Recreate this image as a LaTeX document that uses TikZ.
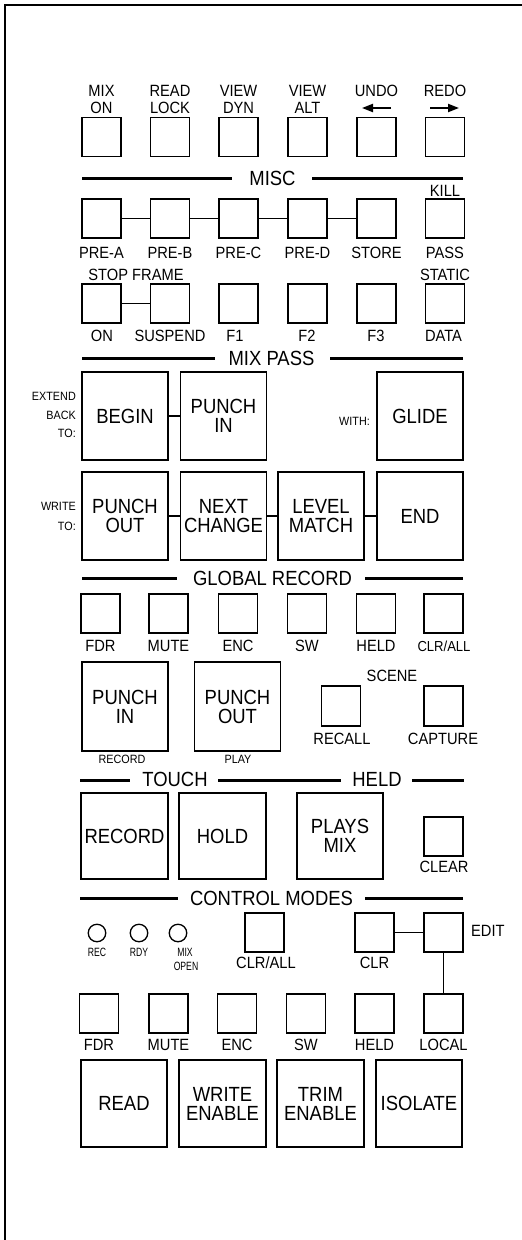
\documentclass[tikz,border=0pt]{standalone}
\usepackage{fontspec}
\setmainfont{Liberation Sans}[FakeStretch=0.9]
\newfontfamily\narrowf{Liberation Sans}[FakeStretch=0.72]
\usetikzlibrary{arrows.meta,calc}
\tikzset{
 sbtn/.style={draw, line width=1.4pt, minimum width=39pt, minimum height=39pt, inner sep=0pt},
 bbtn/.style={draw, line width=1.4pt, minimum width=86pt, minimum height=88pt, inner sep=0pt, align=center, font=\fontsize{20.5}{19}\selectfont},
 lbl/.style={inner sep=0pt, anchor=base, font=\fontsize{16.3}{16}\selectfont},
 slbl/.style={inner sep=0pt, anchor=base, font=\fontsize{12}{12}\selectfont},
 tlbl/.style={inner sep=0pt, anchor=base, font=\narrowf\fontsize{12}{12}\selectfont},
 hdr/.style={inner sep=0pt, anchor=base, font=\fontsize{20.5}{20}\selectfont},
 divider/.style={line width=3pt},
 link/.style={line width=1.5pt},
 lamp/.style={circle, draw, line width=1.3pt, minimum size=17.5pt, inner sep=0pt},
 tiparrow/.style={line width=2pt, -{Triangle[length=11pt,width=8pt]}},
}
\begin{document}
\begin{tikzpicture}[x=1pt,y=-1pt]
\useasboundingbox (0,0) rectangle (522,1240);
% panel border
\coordinate (bl) at (4.5,1240);
\coordinate (tl) at (4.5,5);
\coordinate (tr) at (522,5);
\draw[line width=2pt] (bl) -- (tl) -- (tr);

% ---------- top row ----------
\node[sbtn] (mixon) at (101.5,137) {};
\node[sbtn] (readlock) at (170,137) {};
\node[sbtn] (viewdyn) at (238.5,137) {};
\node[sbtn] (viewalt) at (307.5,137) {};
\node[sbtn] (undo) at (376.5,137) {};
\node[sbtn] (redo) at (445,137) {};
\node[lbl] (lmix1) at (101.5,96) {MIX};
\node[lbl] (lmix2) at (101.5,113) {ON};
\node[lbl] (lrl1) at (170,96) {READ};
\node[lbl] (lrl2) at (170,113) {LOCK};
\node[lbl] (lvd1) at (238.5,96) {VIEW};
\node[lbl] (lvd2) at (238.5,113) {DYN};
\node[lbl] (lva1) at (307.5,96) {VIEW};
\node[lbl] (lva2) at (307.5,113) {ALT};
\node[lbl] (lundo) at (376.5,96) {UNDO};
\node[lbl] (lredo) at (445,96) {REDO};
\coordinate (ua) at (391,108);
\coordinate (ub) at (362,108);
\coordinate (ra) at (430,108);
\coordinate (rb) at (459,108);
\draw[tiparrow] (ua) -- (ub);
\draw[tiparrow] (ra) -- (rb);

% ---------- MISC ----------
\node[hdr] (hmisc) at (272.5,185) {MISC};
\draw[divider] (82,178.5) -- (232,178.5);
\draw[divider] (312,178.5) -- (463,178.5);
\node[lbl] (lkill) at (445,196.5) {KILL};

\node[sbtn] (prea) at (101.5,218.5) {};
\node[sbtn] (preb) at (170,218.5) {};
\node[sbtn] (prec) at (238.5,218.5) {};
\node[sbtn] (pred) at (307.5,218.5) {};
\node[sbtn] (store) at (376.5,218.5) {};
\node[sbtn] (pass) at (445,218.5) {};
\draw[link] (prea) -- (preb);
\draw[link] (preb) -- (prec);
\draw[link] (prec) -- (pred);
\draw[link] (pred) -- (store);
\node[lbl] (lprea) at (101.5,258) {PRE-A};
\node[lbl] (lpreb) at (170,258) {PRE-B};
\node[lbl] (lprec) at (238.5,258) {PRE-C};
\node[lbl] (lpred) at (307.5,258) {PRE-D};
\node[lbl] (lstore) at (376.5,258) {STORE};
\node[lbl] (lpass) at (445,258) {PASS};

\node[lbl] (lstop) at (136,280) {STOP FRAME};
\node[lbl] (lstatic) at (445,280) {STATIC};
\node[sbtn] (on) at (101.5,303.5) {};
\node[sbtn] (susp) at (170,303.5) {};
\node[sbtn] (fone) at (238.5,303.5) {};
\node[sbtn] (ftwo) at (307.5,303.5) {};
\node[sbtn] (fthree) at (376.5,303.5) {};
\node[sbtn] (data) at (445,303.5) {};
\draw[link] (on) -- (susp);
\node[lbl] (lon) at (102,341.5) {ON};
\node[lbl] (lsusp) at (170,341.5) {SUSPEND};
\node[lbl] (lfone) at (235,341.5) {F1};
\node[lbl] (lftwo) at (307,341.5) {F2};
\node[lbl] (lfthree) at (376,341.5) {F3};
\node[lbl] (ldata) at (443.5,341.5) {DATA};

% ---------- MIX PASS ----------
\node[hdr] (hmix) at (271.5,365) {MIX PASS};
\draw[divider] (82,358.5) -- (215,358.5);
\draw[divider] (330,358.5) -- (463,358.5);

\node[bbtn] (begin) at (125,416) {BEGIN};
\node[bbtn] (pin) at (223.5,416) {PUNCH\\IN};
\node[bbtn] (glide) at (420,416) {GLIDE};
\draw[link] (begin) -- (pin);
\node[slbl, anchor=base east] (lext) at (76,400) {EXTEND};
\node[slbl, anchor=base east] (lback) at (76,419.3) {BACK};
\node[slbl, anchor=base east] (lto) at (76,437.3) {TO:};
\node[slbl, anchor=base east] (lwith) at (370,425) {WITH:};

\node[bbtn] (pout) at (125,516) {PUNCH\\OUT};
\node[bbtn] (nextch) at (223.5,516) {NEXT\\CHANGE};
\node[bbtn] (lvl) at (321,516) {LEVEL\\MATCH};
\node[bbtn] (endb) at (420,516) {END};
\draw[link] (pout) -- (nextch);
\draw[link] (nextch) -- (lvl);
\draw[link] (lvl) -- (endb);
\node[slbl, anchor=base east] (lwrite) at (76,510.7) {WRITE};
\node[slbl, anchor=base east] (lto2) at (76,530) {TO:};

% ---------- GLOBAL RECORD ----------
\node[hdr] (hglob) at (272.5,585) {GLOBAL RECORD};
\draw[divider] (82,578.5) -- (177,578.5);
\draw[divider] (365,578.5) -- (463,578.5);
\node[sbtn] (gfdr) at (100.5,613.5) {};
\node[sbtn] (gmute) at (168.5,613.5) {};
\node[sbtn] (genc) at (238,613.5) {};
\node[sbtn] (gsw) at (307,613.5) {};
\node[sbtn] (gheld) at (376,613.5) {};
\node[sbtn] (gclr) at (443.5,613.5) {};
\node[lbl] (lgfdr) at (100.5,651.5) {FDR};
\node[lbl] (lgmute) at (168.5,651.5) {MUTE};
\node[lbl] (lgenc) at (238,651.5) {ENC};
\node[lbl] (lgsw) at (307,651.5) {SW};
\node[lbl] (lgheld) at (376,651.5) {HELD};
\node[lbl, font=\fontsize{14.5}{14.5}\selectfont] (lgclr) at (444,651.5) {CLR/ALL};

\node[bbtn, minimum height=89pt] (gpin) at (125,706.5) {PUNCH\\IN};
\node[bbtn, minimum height=89pt] (gpout) at (237.5,706.5) {PUNCH\\OUT};
\node[slbl] (lgrec) at (122,763) {RECORD};
\node[slbl] (lgplay) at (238,763) {PLAY};
\node[lbl] (lscene) at (392,681) {SCENE};
\node[sbtn, minimum height=40pt] (recall) at (341,706) {};
\node[sbtn, minimum height=40pt] (capture) at (443.5,706) {};
\node[lbl] (lrecall) at (342,744) {RECALL};
\node[lbl] (lcapture) at (443,744) {CAPTURE};

% ---------- TOUCH / HELD ----------
\node[hdr] (htouch) at (175,786.7) {TOUCH};
\node[hdr] (hheld) at (377,786.7) {HELD};
\draw[divider] (80,780.5) -- (130,780.5);
\draw[divider] (218,780.5) -- (341,780.5);
\draw[divider] (412,780.5) -- (464,780.5);
\node[bbtn, minimum width=87pt, minimum height=86pt] (trec) at (124.5,836) {RECORD};
\node[bbtn, minimum width=87pt, minimum height=86pt] (thold) at (222.5,836) {HOLD};
\node[bbtn, minimum height=86pt] (plays) at (340,836) {PLAYS\\MIX};
\node[sbtn] (clear) at (443.5,836.5) {};
\node[lbl] (lclear) at (444,872.7) {CLEAR};

% ---------- CONTROL MODES ----------
\node[hdr] (hctrl) at (271.5,905) {CONTROL MODES};
\draw[divider] (80,898.5) -- (178,898.5);
\draw[divider] (365,898.5) -- (463,898.5);
\node[lamp] (rec) at (97,933) {};
\node[lamp] (rdy) at (139,933) {};
\node[lamp] (mixopen) at (178,933) {};
\node[tlbl] (lrec) at (97,956) {REC};
\node[tlbl] (lrdy) at (139,956) {RDY};
\node[tlbl] (lmo1) at (185,956) {MIX};
\node[tlbl] (lmo2) at (186,970) {OPEN};
\node[sbtn] (cclrall) at (264.5,932.5) {};
\node[lbl] (lcclrall) at (266,968) {CLR/ALL};
\node[sbtn] (cclr) at (374.5,932.5) {};
\node[lbl] (lcclr) at (374.5,968) {CLR};
\node[sbtn] (edit) at (443.5,932.5) {};
\node[lbl, anchor=base west] (ledit) at (471,936.7) {EDIT};
\draw[link] (cclr) -- (edit);

\node[sbtn] (cfdr) at (99,1013.5) {};
\node[sbtn] (cmute) at (168.5,1013.5) {};
\node[sbtn] (cenc) at (237,1013.5) {};
\node[sbtn] (csw) at (306,1013.5) {};
\node[sbtn] (cheld) at (374.5,1013.5) {};
\node[sbtn] (clocal) at (443.5,1013.5) {};
\draw[link] (edit) -- (clocal);
\node[lbl] (lcfdr) at (99,1050) {FDR};
\node[lbl] (lcmute) at (168.5,1050) {MUTE};
\node[lbl] (lcenc) at (237,1050) {ENC};
\node[lbl] (lcsw) at (306,1050) {SW};
\node[lbl] (lcheld) at (374.5,1050) {HELD};
\node[lbl] (lclocal) at (443.5,1050) {LOCAL};

\node[bbtn, minimum height=87pt] (read) at (124,1103.5) {READ};
\node[bbtn, minimum width=87pt, minimum height=87pt] (write) at (222.5,1103.5) {WRITE\\ENABLE};
\node[bbtn, minimum width=87pt, minimum height=87pt] (trim) at (320.5,1103.5) {TRIM\\ENABLE};
\node[bbtn, minimum height=87pt] (isolate) at (419,1103.5) {ISOLATE};
\end{tikzpicture}
\end{document}
